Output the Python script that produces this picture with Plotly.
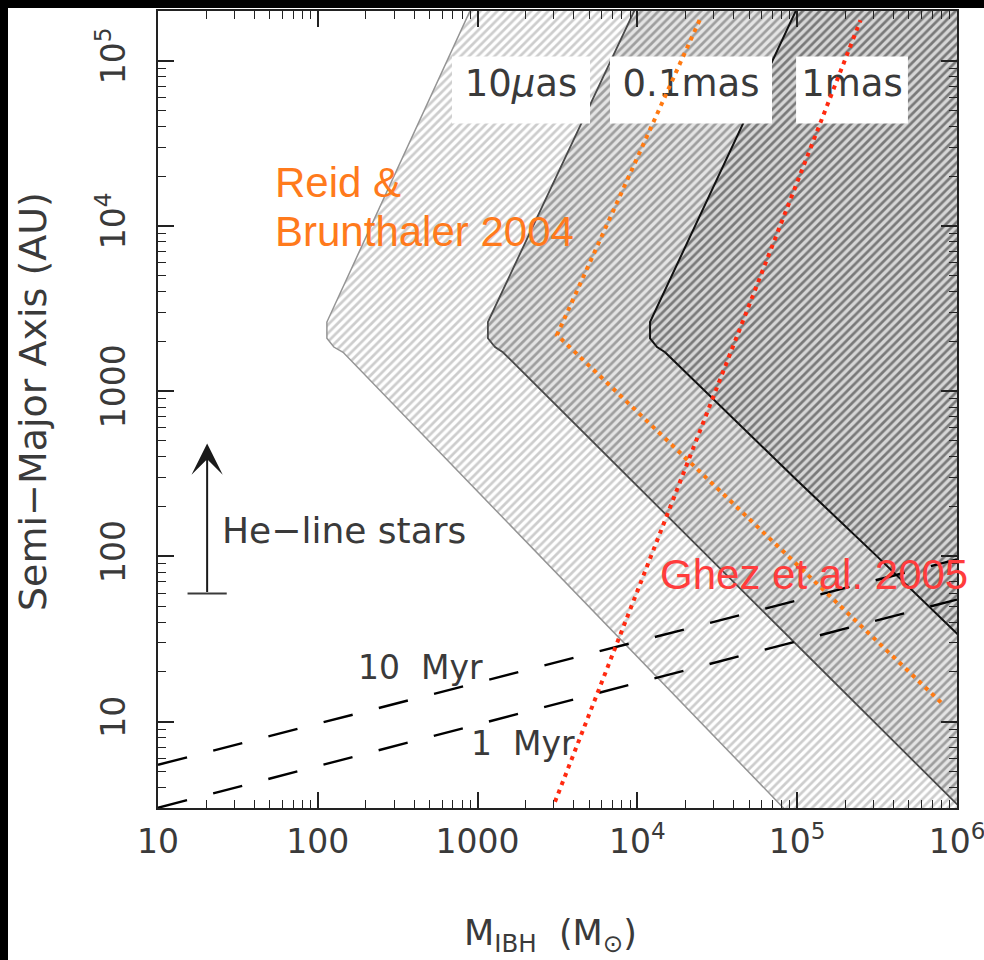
import numpy as np
import plotly.graph_objects as go

# ---------------- data ----------------
# astrometric sensitivity regions (outline polygons): M_IBH [M_sun], a [AU]
m_10uas = [1120, 114, 114, 126, 144, 1.23e5, 2.0e6, 2.0e6]
a_10uas = [3.2e5, 2620, 2090, 1850, 1720, 2.0, 2.0, 3.2e5]
m_01mas = [12000, 1160, 1160, 1285, 1440, 1.0e5, 3.16e5, 1.0e6, 2.0e6, 2.0e6]
a_01mas = [3.2e5, 2620, 2090, 1850, 1720, 28.8, 9.5, 3.16, 1.62, 3.2e5]
m_1mas = [1.23e5, 12000, 12000, 13270, 14900, 1.0e5, 3.16e5, 1.0e6, 2.0e6, 2.0e6]
a_1mas = [3.2e5, 2620, 2090, 1850, 1720, 288, 100, 33.9, 17.8, 3.2e5]
region_labels = ["10<i>μ</i>as", "0.1mas", "1mas"]

# Reid & Brunthaler 2004 limit (orange dotted)
m_reid = [24500, 3140, 8.05e5]
a_reid = [1.76e5, 2190, 12.9]
# Ghez et al. 2005 limit (red dotted)
m_ghez = [3050, 2.49e5]
a_ghez = [3.27, 1.76e5]
# 10 Myr / 1 Myr curves (dashed)
m_age = [10, 1.0e6]
a_10myr = [5.48, 96]
a_1myr = [3.01, 54.8]
# He-line stars arrow
m_he = 20.3
a_he_lo = 59.6
a_he_hi = 482

x_tickvals = [10, 100, 1000, 1e4, 1e5, 1e6]
x_ticktext = ["10", "100", "1000", "10<sup>4</sup>", "10<sup>5</sup>", "10<sup>6</sup>"]
y_tickvals = [10, 100, 1000, 1e4, 1e5]
y_ticktext = ["10", "100", "1000", "10<sup>4</sup>", "10<sup>5</sup>"]

# ---------------- layout helpers ----------------
W, H = 984, 960
L, R, T, B = 158, 27, 11, 152
PW, PH = W - L - R, H - T - B


def px(xp):
    return (xp - L) / PW


def py(yp):
    return (H - B - yp) / PH


FONT = "DejaVu Sans"
INK = "#3a3a3a"
XR = [1, 6.00001]
YR = [np.log10(3), np.log10(2e5)]

fig = go.Figure()

regions = [
    (m_10uas, a_10uas, "#9c9c9c", "#ffffff", "#959595", 1.5),
    (m_01mas, a_01mas, "#585858", "#e4e4e4", "#4a4a4a", 1.8),
    (m_1mas, a_1mas, "#1c1c1c", "#d6d6d6", "#111111", 2.0),
]
for m, a, fg, bg, lc, lw in regions:
    fig.add_trace(go.Scatter(
        x=m, y=a, mode="lines", fill="toself", fillcolor=bg,
        fillpattern=dict(shape="/", size=6, solidity=0.45, fgcolor=fg, bgcolor=bg),
        line=dict(color=lc, width=lw), hoverinfo="skip", showlegend=False))

# label boxes for the region names (white background)
lab_lx = [3.2716, 4.3354, 5.343]
lab_hw = [0.432, 0.507, 0.350]
lab_ly, lab_hh = 4.823, 0.203
for cx, hw in zip(lab_lx, lab_hw):
    xs = [10 ** (cx - hw), 10 ** (cx + hw), 10 ** (cx + hw), 10 ** (cx - hw), 10 ** (cx - hw)]
    ys = [10 ** (lab_ly - lab_hh)] * 2 + [10 ** (lab_ly + lab_hh)] * 2 + [10 ** (lab_ly - lab_hh)]
    fig.add_trace(go.Scatter(x=xs, y=ys, mode="lines", fill="toself", fillcolor="white",
                             line=dict(width=0, color="white"), hoverinfo="skip", showlegend=False))
fig.add_trace(go.Scatter(
    x=[10 ** v for v in lab_lx], y=[10 ** 4.84] * 3, mode="text", text=region_labels,
    textposition="middle center", textfont=dict(family=FONT, size=37, color=INK),
    hoverinfo="skip", showlegend=False))

# dashed age curves
for a in (a_10myr, a_1myr):
    fig.add_trace(go.Scatter(x=m_age, y=a, mode="lines",
                             line=dict(color="black", width=2.4, dash="30px,27px"),
                             hoverinfo="skip", showlegend=False))

# He-line stars lower cap
fig.add_trace(go.Scatter(x=[m_he], y=[a_he_lo], mode="markers",
                         marker=dict(symbol="line-ew", size=28, line=dict(color=INK, width=2)),
                         hoverinfo="skip", showlegend=False))

# dotted literature limits
fig.add_trace(go.Scatter(x=m_reid, y=a_reid, mode="lines",
                         line=dict(color="#ff7a12", width=4, dash="4px,5px"),
                         hoverinfo="skip", showlegend=False))
fig.add_trace(go.Scatter(x=m_ghez, y=a_ghez, mode="lines",
                         line=dict(color="#ff2a10", width=4, dash="4px,5px"),
                         hoverinfo="skip", showlegend=False))

# invisible trace that carries the overlay axes used for minor ticks
fig.add_trace(go.Scatter(x=[100], y=[100], mode="markers", marker=dict(opacity=0),
                         xaxis="x2", yaxis="y2", hoverinfo="skip", showlegend=False))


def ann(xp, yp, text, size, color=INK, family=FONT, xanchor="center", angle=0):
    return dict(x=px(xp), y=py(yp), xref="paper", yref="paper", text=text,
                xanchor=xanchor, yanchor="middle", textangle=angle, showarrow=False,
                font=dict(family=family, size=size, color=color))


annotations = [
    dict(x=np.log10(m_he), y=np.log10(a_he_hi), ax=np.log10(m_he), ay=np.log10(a_he_lo),
         xref="x", yref="y", axref="x", ayref="y", text="", showarrow=True,
         arrowhead=3, arrowsize=2.6, arrowwidth=2, arrowcolor="#1a1a1a"),
    ann(344, 530, "He−line stars", 36),
    ann(420, 667, "10\u00a0\u00a0Myr", 33),
    ann(523, 743, "1\u00a0\u00a0Myr", 33),
    ann(273, 182, "Reid &", 42, "#ff7a1c", "Liberation Sans", "left"),
    ann(273, 231, "Brunthaler 2004", 42, "#ff7a1c", "Liberation Sans", "left"),
    ann(658, 574, "Ghez et al. 2005", 42, "#ff3c3c", "Liberation Sans", "left"),
    ann(33, 402, "Semi−Major Axis (AU)", 38, angle=-90),
    ann(550, 935, "M<sub>IBH</sub>  (M<sub>⊙</sub>)", 35),
]

shapes = [
    dict(type="rect", xref="paper", yref="paper", x0=px(-2), x1=px(986), y0=py(8), y1=py(-2),
         fillcolor="black", line=dict(width=0), layer="above"),
    dict(type="rect", xref="paper", yref="paper", x0=px(-2), x1=px(8), y0=py(962), y1=py(-2),
         fillcolor="black", line=dict(width=0), layer="above"),
]

minor_vals = [k * 10 ** d for d in range(0, 7) for k in range(2, 10)]

base = dict(type="log", showgrid=False, zeroline=False, showline=True, linecolor="#222222",
            linewidth=2, mirror="allticks", ticks="inside", tickcolor="#222222",
            automargin=False)

fig.update_layout(
    width=W, height=H, margin=dict(l=L, r=R, t=T, b=B, autoexpand=False),
    paper_bgcolor="white", plot_bgcolor="white",
    xaxis=dict(range=XR, tickmode="array", tickvals=x_tickvals, ticktext=x_ticktext,
               ticklen=16, tickwidth=1.6, ticklabelstandoff=3, ticklabeloverflow="allow",
               tickfont=dict(family=FONT, size=33, color=INK), **base),
    yaxis=dict(range=YR, tickmode="array", tickvals=y_tickvals, ticktext=y_ticktext,
               tickangle=-90, ticklen=16, tickwidth=1.6, ticklabelstandoff=18,
               ticklabeloverflow="allow",
               tickfont=dict(family=FONT, size=33, color=INK), **base),
    xaxis2=dict(range=XR, overlaying="x", anchor="y2", tickmode="array", tickvals=minor_vals,
                ticklen=8, tickwidth=1.3, showticklabels=False, **base),
    yaxis2=dict(range=YR, overlaying="y", anchor="x2", tickmode="array", tickvals=minor_vals,
                ticklen=8, tickwidth=1.3, showticklabels=False, **base),
    annotations=annotations, shapes=shapes, showlegend=False,
)

fig.write_html("out.html")
